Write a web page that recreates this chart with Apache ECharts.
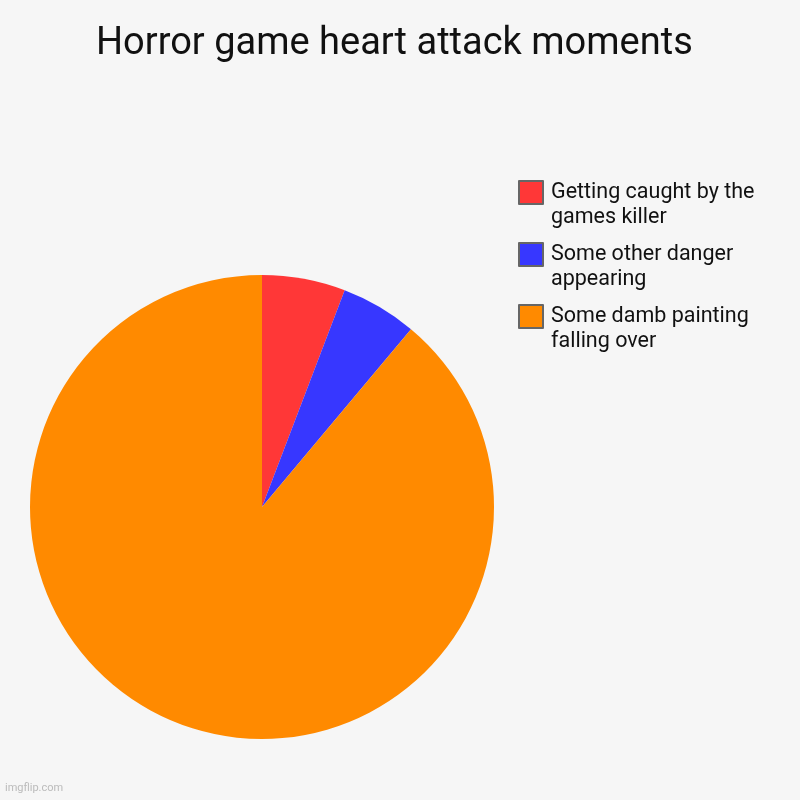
<!DOCTYPE html>
<html>
<head>
<meta charset="utf-8">
<script src="https://cdn.jsdelivr.net/npm/echarts@6/dist/echarts.min.js"></script>
<style>
  html, body { margin: 0; padding: 0; background: #f6f6f6; }
  #chart { width: 800px; height: 800px; }
</style>
</head>
<body>
<div id="chart"></div>
<script>
var titleText = 'Horror game heart attack moments';
var categories = ['Getting caught by the games killer', 'Some other danger appearing', 'Some damb painting falling over'];
var legendLines = ['Getting caught by the\ngames killer', 'Some other danger\nappearing', 'Some damb painting\nfalling over'];
var values = [5.8, 5.3, 88.9];
var colors = ['#ff3737', '#3737ff', '#ff8a00'];

var myChart = echarts.init(document.getElementById('chart'));

// first line of each label sits level with its box: a blank line above balances the second line
var legendTops = [150, 212, 274];
var legends = categories.map(function (name, i) {
  return {
    data: [name],
    orient: 'vertical',
    left: 513,
    top: legendTops[i],
    itemWidth: 24,
    itemHeight: 23,
    itemGap: 10,
    icon: 'rect',
    itemStyle: { borderColor: '#666', borderWidth: 2 },
    formatter: function () { return ' \n' + legendLines[i]; },
    textStyle: {
      fontFamily: 'Roboto',
      fontSize: 21.5,
      color: '#111',
      lineHeight: 25,
      padding: [0, 0, 0, 3]
    }
  };
});

myChart.setOption({
  backgroundColor: '#f6f6f6',
  animation: false,
  title: {
    text: titleText,
    left: 91,
    top: 20,
    textStyle: { fontFamily: 'Roboto', fontSize: 38, fontWeight: 'normal', color: '#111' }
  },
  legend: legends,
  graphic: [{
    type: 'text',
    left: 5,
    bottom: 6,
    style: { text: 'imgflip.com', fill: '#bbb', font: '11px Roboto' }
  }],
  series: [{
    type: 'pie',
    center: [262, 507],
    radius: 232,
    startAngle: 90,
    clockwise: true,
    label: { show: false },
    labelLine: { show: false },
    emphasis: { disabled: true },
    data: categories.map(function (name, i) {
      return { name: name, value: values[i], itemStyle: { color: colors[i] } };
    })
  }]
});
</script>
</body>
</html>
